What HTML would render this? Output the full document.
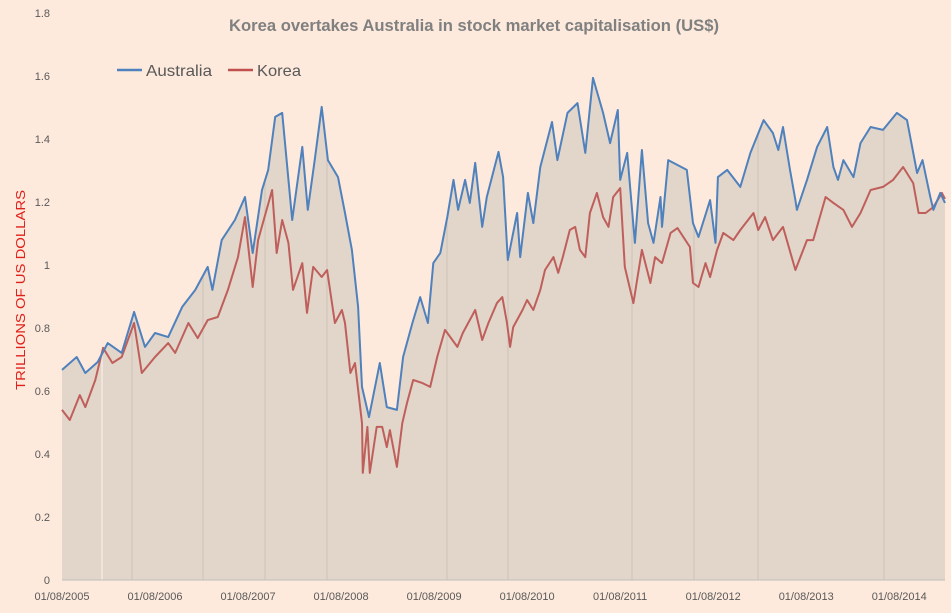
<!DOCTYPE html>
<html><head><meta charset="utf-8"><style>
body{margin:0;background:#fdeadc;}
svg text{font-family:"Liberation Sans",sans-serif;}
</style></head><body>
<svg id="chart" width="951" height="608" xmlns="http://www.w3.org/2000/svg">
<rect x="0" y="0" width="951" height="608" fill="#fdeadc"/>
<text x="474" y="31" text-anchor="middle" font-size="17" font-weight="bold" fill="#808080" textLength="490" lengthAdjust="spacingAndGlyphs">Korea overtakes Australia in stock market capitalisation (US$)</text>
<text transform="translate(25,290) rotate(-90)" text-anchor="middle" font-size="13" fill="#e0201b" textLength="200" lengthAdjust="spacingAndGlyphs">TRILLIONS OF US DOLLARS</text>
<g>
<line x1="117" y1="70" x2="142" y2="70" stroke="#4f81bd" stroke-width="2.5"/>
<text x="146" y="76" font-size="16" fill="#595959" textLength="66" lengthAdjust="spacingAndGlyphs">Australia</text>
<line x1="228" y1="70" x2="253" y2="70" stroke="#c0504d" stroke-width="2.5"/>
<text x="257" y="76" font-size="16" fill="#595959" textLength="44" lengthAdjust="spacingAndGlyphs">Korea</text>
</g>
<defs><clipPath id="areaClip"><path id="clipPathShape"/></clipPath></defs>
<g id="plot"></g>
</svg>
<script>
const xTickLabels=["01/08/2005","01/08/2006","01/08/2007","01/08/2008","01/08/2009","01/08/2010","01/08/2011","01/08/2012","01/08/2013","01/08/2014"];
const yTickLabels=["0","0.2","0.4","0.6","0.8","1","1.2","1.4","1.6","1.8"];
const yTickValues=[0,0.2,0.4,0.6,0.8,1,1.2,1.4,1.6,1.8];
// months since 01/08/2005
const ausMonths=[0,1.9,3.0,4.6,5.9,7.7,9.3,10.7,12.0,13.7,15.5,17.2,18.8,19.4,20.6,22.3,23.6,24.6,25.8,26.6,27.5,28.4,29.7,31.0,31.7,32.6,33.5,34.3,35.6,36.5,37.4,38.2,38.7,39.6,41.0,41.9,43.2,44.0,45.2,46.2,47.2,47.9,48.8,49.7,50.5,51.1,52.0,52.6,53.3,54.2,54.8,56.3,56.9,57.5,58.7,59.1,60.1,60.8,61.7,63.2,63.9,65.2,66.5,67.5,68.5,69.8,70.7,71.7,72.0,72.9,73.9,74.8,75.6,76.3,77.2,77.4,78.2,80.6,81.4,82.1,83.6,84.3,84.6,85.8,87.5,88.8,90.5,91.7,92.4,93.0,93.9,94.6,94.8,96.1,97.4,98.7,99.5,100.1,100.8,102.1,103.0,104.3,105.9,107.7,109.0,110.3,111.0,112.0,112.4,113.3,113.9];
const ausValues=[0.667,0.708,0.657,0.692,0.752,0.721,0.851,0.740,0.784,0.771,0.867,0.921,0.994,0.921,1.079,1.143,1.216,1.038,1.238,1.302,1.470,1.483,1.143,1.375,1.175,1.333,1.502,1.333,1.279,1.165,1.048,0.867,0.613,0.517,0.689,0.549,0.540,0.708,0.816,0.898,0.816,1.006,1.038,1.152,1.270,1.175,1.270,1.197,1.324,1.121,1.216,1.359,1.279,1.016,1.165,1.025,1.229,1.133,1.311,1.454,1.333,1.483,1.514,1.356,1.594,1.483,1.387,1.492,1.270,1.356,1.070,1.365,1.133,1.070,1.216,1.121,1.333,1.302,1.133,1.089,1.206,1.070,1.279,1.302,1.248,1.356,1.460,1.419,1.365,1.438,1.302,1.206,1.175,1.270,1.375,1.438,1.311,1.270,1.333,1.279,1.387,1.438,1.429,1.483,1.460,1.292,1.333,1.216,1.175,1.229,1.197];
const korMonths=[0,1.0,2.3,3.0,4.3,5.3,6.5,7.7,9.3,10.3,12.0,13.7,14.6,16.3,17.5,18.8,20.1,21.4,22.7,23.6,24.6,25.3,27.1,27.7,28.4,29.2,29.8,31.0,31.6,32.4,33.5,34.2,35.2,36.1,36.5,37.2,37.8,38.7,38.8,39.4,39.7,40.6,41.3,41.9,42.3,43.2,43.9,44.5,45.3,46.5,47.5,48.4,49.4,51.0,51.7,53.3,54.2,55.0,56.1,56.8,57.4,57.8,58.2,59.4,60.0,60.8,61.7,62.3,63.4,64.0,64.6,65.5,66.2,66.8,67.5,68.1,69.0,69.8,70.5,71.1,72.0,72.6,73.7,74.8,75.9,76.5,77.4,78.5,79.4,81.0,81.4,82.1,83.0,83.6,84.5,85.3,86.6,87.5,89.2,89.8,90.7,91.7,93.0,94.6,96.1,96.9,98.5,99.5,100.8,101.9,103.0,104.3,105.9,107.2,108.5,109.8,110.5,111.4,112.4,113.5,113.9];
const korValues=[0.540,0.508,0.587,0.549,0.635,0.737,0.689,0.708,0.816,0.657,0.708,0.752,0.721,0.816,0.768,0.825,0.835,0.921,1.025,1.152,0.930,1.079,1.238,1.038,1.143,1.070,0.921,1.006,0.848,0.994,0.962,0.984,0.816,0.857,0.816,0.657,0.689,0.498,0.340,0.486,0.340,0.486,0.486,0.422,0.476,0.359,0.498,0.562,0.635,0.625,0.613,0.708,0.794,0.740,0.784,0.857,0.762,0.816,0.879,0.898,0.816,0.740,0.803,0.857,0.889,0.857,0.921,0.984,1.025,0.975,1.025,1.111,1.121,1.048,1.025,1.165,1.229,1.152,1.121,1.216,1.244,0.994,0.879,1.048,0.943,1.025,1.006,1.102,1.117,1.057,0.943,0.930,1.006,0.962,1.048,1.102,1.079,1.111,1.165,1.111,1.152,1.079,1.121,0.984,1.079,1.079,1.216,1.197,1.175,1.121,1.165,1.238,1.248,1.270,1.311,1.260,1.165,1.165,1.184,1.229,1.210];
const X0=62,X1=945,Y0=580,Y1=13,XMAX=113.9,YMAX=1.8;
const xs=m=>X0+(m/XMAX)*(X1-X0);
const ys=v=>Y0-(v/YMAX)*(Y0-Y1);
const NS="http://www.w3.org/2000/svg";
const plot=document.getElementById('plot');
function mk(t,a,parent){const e=document.createElementNS(NS,t);for(const k in a)e.setAttribute(k,a[k]);(parent||plot).appendChild(e);return e;}
let d="M"+xs(ausMonths[0])+","+Y0;
ausMonths.forEach((m,i)=>{d+=" L"+xs(m).toFixed(1)+","+ys(ausValues[i]).toFixed(1);});
d+=" L"+xs(ausMonths[ausMonths.length-1])+","+Y0+" Z";
document.getElementById('clipPathShape').setAttribute('d',d);
const area=mk('path',{d:d,fill:"#e2d5c9"});


const decoG=mk('g',{"clip-path":"url(#areaClip)"});


const decoX=[102,132,203,265,327,447,508,632,694,758,884];
decoX.forEach((x,i)=>{const l=mk('line',{x1:x,y1:Y0,x2:x,y2:Y1,stroke:i==0?"#fdf3ea":"#cfc3b9","stroke-width":1},decoG);

});
function line(ms,vs,color,name){let p="";ms.forEach((m,i)=>{p+=(i?" L":"M")+xs(m).toFixed(1)+","+ys(vs[i]).toFixed(1);});
const e=mk('path',{d:p,fill:"none",stroke:color,"stroke-width":2,"stroke-linejoin":"round"});

}
line(korMonths,korValues,"#bf5f5c","korea-line");
line(ausMonths,ausValues,"#4f81bd","australia-line");
const ax=mk('line',{x1:X0,y1:Y0,x2:X1,y2:Y0,stroke:"#bfbfbf","stroke-width":1});


yTickValues.forEach((v,i)=>{const t=mk('text',{x:50,y:ys(v)+4,"text-anchor":"end","font-size":11,fill:"#595959"});t.textContent=yTickLabels[i];

});
xTickLabels.forEach((s,i)=>{const t=mk('text',{x:xs(i*12),y:600,"text-anchor":"middle","font-size":11,fill:"#595959"});t.textContent=s;

});
</script>
</body></html>
